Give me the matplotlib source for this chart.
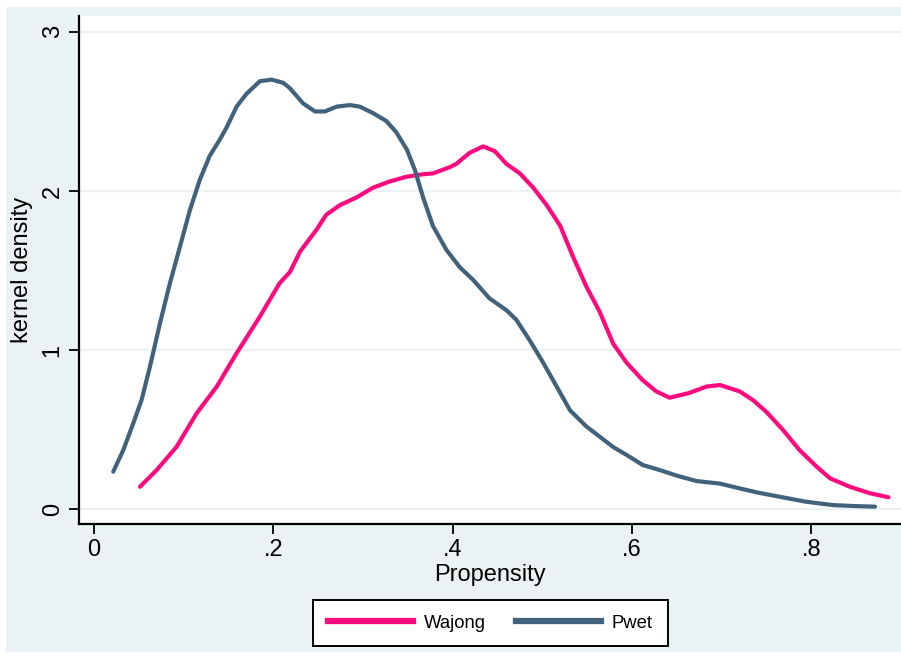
import matplotlib.pyplot as plt
from matplotlib.patches import Rectangle
from matplotlib.lines import Line2D

# ===============================
# Datos
# ===============================
wajong_x = [0.0513, 0.0699, 0.0922, 0.1145, 0.1368, 0.159, 0.185, 0.207, 0.2185, 0.230,
            0.248, 0.259, 0.274, 0.293, 0.311, 0.330, 0.349, 0.367, 0.378, 0.397,
            0.404, 0.419, 0.434, 0.447, 0.460, 0.475, 0.490, 0.505, 0.520, 0.534,
            0.549, 0.564, 0.579, 0.594, 0.612, 0.627, 0.642, 0.664, 0.683, 0.698,
            0.720, 0.735, 0.750, 0.768, 0.787, 0.806, 0.821, 0.843, 0.865, 0.886]
wajong_y = [0.140, 0.245, 0.392, 0.602, 0.769, 0.979, 1.21, 1.42, 1.49, 1.62,
            1.755, 1.85, 1.91, 1.96, 2.02, 2.06, 2.09, 2.105, 2.11, 2.15,
            2.17, 2.24, 2.28, 2.25, 2.17, 2.11, 2.02, 1.91, 1.78, 1.59,
            1.40, 1.24, 1.04, 0.92, 0.81, 0.74, 0.70, 0.73, 0.77, 0.78,
            0.74, 0.685, 0.61, 0.50, 0.37, 0.266, 0.193, 0.14, 0.10, 0.074]

pwet_x = [0.0215, 0.0327, 0.0438, 0.0531, 0.0624, 0.0736, 0.0847, 0.0959, 0.107, 0.118,
          0.129, 0.140, 0.148, 0.159, 0.170, 0.185, 0.198, 0.211, 0.2185, 0.2333,
          0.2464, 0.2575, 0.2706, 0.2854, 0.2965, 0.311, 0.326, 0.337, 0.349, 0.358,
          0.367, 0.378, 0.386, 0.393, 0.408, 0.423, 0.441, 0.460, 0.471, 0.486,
          0.501, 0.516, 0.531, 0.549, 0.564, 0.579, 0.594, 0.612, 0.631, 0.650,
          0.672, 0.698, 0.720, 0.739, 0.765, 0.794, 0.824, 0.847, 0.871]
pwet_y = [0.235, 0.371, 0.539, 0.686, 0.895, 1.168, 1.42, 1.65, 1.88, 2.07,
          2.22, 2.32, 2.40, 2.53, 2.61, 2.69, 2.70, 2.68, 2.646, 2.55,
          2.50, 2.50, 2.53, 2.54, 2.53, 2.49, 2.44, 2.37, 2.26, 2.13,
          1.96, 1.78, 1.70, 1.63, 1.52, 1.44, 1.325, 1.25, 1.19, 1.06,
          0.92, 0.77, 0.62, 0.52, 0.455, 0.39, 0.34, 0.277, 0.245, 0.21,
          0.176, 0.16, 0.13, 0.105, 0.077, 0.046, 0.025, 0.019, 0.015]

x_ticks = [0, 0.2, 0.4, 0.6, 0.8]
x_labels = ["0", ".2", ".4", ".6", ".8"]
y_ticks = [0, 1, 2, 3]
y_labels = ["0", "1", "2", "3"]

plt.rcParams['font.family'] = ['Liberation Sans', 'DejaVu Sans']

W, H = 901, 653
fig = plt.figure(figsize=(W / 100, H / 100), dpi=100)
fig.patch.set_facecolor("white")

# Panel exterior estilo Stata
fig.patches.append(Rectangle((6 / W, 1 - 652 / H), (901 - 6) / W, (652 - 7) / H,
                             transform=fig.transFigure, facecolor="#eaf2f3",
                             edgecolor="none", zorder=-5))

ax = fig.add_axes([79 / W, 1 - 524 / H, (901 - 79) / W, (524 - 16) / H])
ax.set_zorder(2)
ax.set_facecolor("white")

pink = "#ff0a7d"
navy = "#42627c"

ax.plot(wajong_x, wajong_y, color=pink, lw=3.0, solid_capstyle="round",
        solid_joinstyle="round", zorder=3)
ax.plot(pwet_x, pwet_y, color=navy, lw=3.0, solid_capstyle="round",
        solid_joinstyle="round", zorder=3)

ax.set_xlim(-0.0167, 0.9)
ax.set_ylim(-0.094, 3.10)

ax.set_xticks(x_ticks)
ax.set_xticklabels(x_labels)
ax.set_yticks(y_ticks)
ax.set_yticklabels(y_labels, rotation=90, va="center")

ax.grid(axis="y", color="#eaf2f3", lw=1.6, zorder=1)
ax.set_axisbelow(True)

for s in ["top", "right"]:
    ax.spines[s].set_visible(False)
for s in ["left", "bottom"]:
    ax.spines[s].set_linewidth(1.6)
    ax.spines[s].set_color("black")

ax.tick_params(axis="both", direction="out", length=7, width=1.3,
               labelsize=17, colors="black", pad=4)

ax.set_xlabel("Propensity", fontsize=17, labelpad=2)
ax.set_ylabel("kernel density", fontsize=17, labelpad=6)

# Leyenda
handles = [Line2D([], [], color=pink, lw=4.5),
           Line2D([], [], color=navy, lw=4.5)]
leg = fig.legend(handles, ["Wajong", "Pwet"], loc="center",
                 bbox_to_anchor=(490.5 / W, 1 - 623 / H), ncol=2,
                 fontsize=13.3, frameon=True, fancybox=False, framealpha=1,
                 handlelength=4.6, handletextpad=0.6, columnspacing=1.6,
                 borderpad=0.8)
leg.set_zorder(5)
leg.get_frame().set_edgecolor("black")
leg.get_frame().set_linewidth(1.4)
leg.get_frame().set_facecolor("white")

fig.savefig("out.png", dpi=100, facecolor=fig.get_facecolor())
